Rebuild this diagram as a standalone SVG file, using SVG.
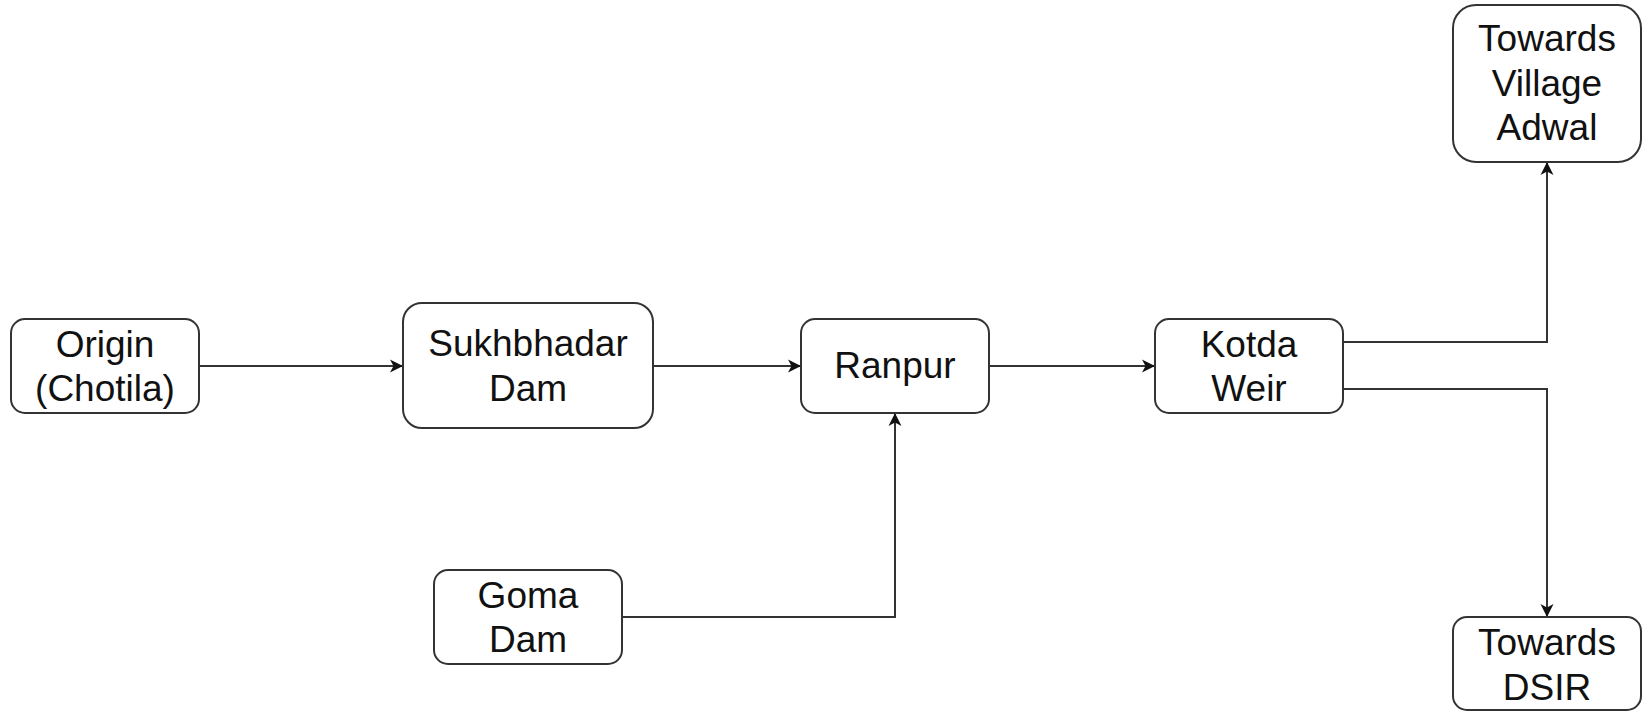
<svg xmlns="http://www.w3.org/2000/svg" width="1642" height="711" viewBox="0 0 1642 711">
<style>
.box{fill:#fff;stroke:#333;stroke-width:2}
.lbl{font-family:"Liberation Sans",Arial,sans-serif;font-size:37px;fill:#111;text-anchor:middle}
.edge{fill:none;stroke:#333;stroke-width:2}
</style>
<defs>
<marker id="arr" markerUnits="userSpaceOnUse" markerWidth="16" markerHeight="16" viewBox="-1 -8 16 16" refX="13" refY="0" orient="auto">
<path d="M0,-6.5 L13,0 L0,6.5 L3.5,0 Z" fill="#111"/>
</marker>
</defs>
<rect width="1642" height="711" fill="#fff"/>
<g id="connectors">
<path class="edge" d="M199,366 L403,366" marker-end="url(#arr)"/>
<path class="edge" d="M653,366 L801,366" marker-end="url(#arr)"/>
<path class="edge" d="M989,366 L1155,366" marker-end="url(#arr)"/>
<path class="edge" d="M622,617 L895,617 L895,413" marker-end="url(#arr)"/>
<path class="edge" d="M1343,342 L1547,342 L1547,162" marker-end="url(#arr)"/>
<path class="edge" d="M1343,389 L1547,389 L1547,617" marker-end="url(#arr)"/>
</g>
<g id="origin">
<rect class="box" x="11" y="319" width="188" height="94" rx="14"/>
<text class="lbl" x="105" y="357">Origin</text>
<text class="lbl" x="105" y="401">(Chotila)</text>
</g>
<g id="sukhbhadar">
<rect class="box" x="403" y="303" width="250" height="125" rx="19"/>
<text class="lbl" x="528" y="356">Sukhbhadar</text>
<text class="lbl" x="528" y="401">Dam</text>
</g>
<g id="ranpur">
<rect class="box" x="801" y="319" width="188" height="94" rx="14"/>
<text class="lbl" x="895" y="378">Ranpur</text>
</g>
<g id="kotda">
<rect class="box" x="1155" y="319" width="188" height="94" rx="14"/>
<text class="lbl" x="1249" y="357">Kotda</text>
<text class="lbl" x="1249" y="401">Weir</text>
</g>
<g id="goma">
<rect class="box" x="434" y="570" width="188" height="94" rx="14"/>
<text class="lbl" x="528" y="608">Goma</text>
<text class="lbl" x="528" y="652">Dam</text>
</g>
<g id="adwal">
<rect class="box" x="1453" y="5" width="188" height="157" rx="23"/>
<text class="lbl" x="1547" y="51">Towards</text>
<text class="lbl" x="1547" y="96">Village</text>
<text class="lbl" x="1547" y="140">Adwal</text>
</g>
<g id="dsir">
<rect class="box" x="1453" y="617" width="188" height="93" rx="14"/>
<text class="lbl" x="1547" y="655">Towards</text>
<text class="lbl" x="1547" y="700">DSIR</text>
</g>
</svg>
